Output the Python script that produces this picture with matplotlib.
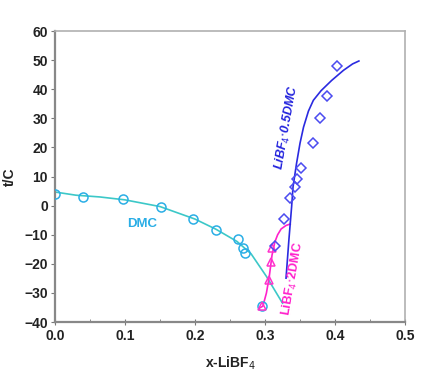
import matplotlib
matplotlib.use('Agg')
import matplotlib.pyplot as plt
from matplotlib.ticker import MultipleLocator

# Datos: DMC (puntos y curva)
dmc_x = [0.0, 0.040, 0.097, 0.152, 0.197, 0.230, 0.261, 0.269, 0.271, 0.296]
dmc_t = [4.0, 3.1, 2.2, -0.6, -4.7, -8.3, -11.5, -14.6, -16.3, -34.3]
dmc_fit_x = [0.0, 0.03, 0.064, 0.10, 0.15, 0.20, 0.23, 0.26, 0.28, 0.302, 0.315, 0.325]
dmc_fit_t = [4.7, 3.6, 3.0, 2.0, -0.3, -4.6, -8.1, -12.3, -16.5, -24.3, -29.5, -33.5]

# LiBF4·2DMC
dmc2_x = [0.296, 0.306, 0.309, 0.310]
dmc2_t = [-34.3, -25.5, -19.2, -14.6]
dmc2_fit_x = [0.292, 0.297, 0.302, 0.306, 0.310, 0.314, 0.318, 0.323, 0.330, 0.336]
dmc2_fit_t = [-35.2, -34.5, -30.0, -24.5, -17.0, -12.5, -10.0, -8.0, -6.8, -6.3]

# LiBF4·0.5DMC
dmc05_x = [0.314, 0.327, 0.335, 0.343, 0.345, 0.351, 0.368, 0.378, 0.388, 0.403]
dmc05_t = [-13.8, -4.6, 2.7, 6.3, 9.0, 12.8, 21.4, 30.2, 37.6, 47.9]
dmc05_fit_x = [0.330, 0.334, 0.338, 0.340, 0.345, 0.350, 0.355, 0.362, 0.369, 0.380, 0.395, 0.412, 0.425, 0.434]
dmc05_fit_t = [-24.9, -12.0, -0.3, 6.5, 14.5, 21.5, 27.0, 32.5, 36.2, 39.5, 43.0, 46.5, 48.7, 49.7]

plt.rcParams['font.family'] = ['Liberation Sans', 'DejaVu Sans']

fig = plt.figure(figsize=(4.22, 3.83), dpi=100)
ax = fig.add_axes([0.130, 0.159, 0.830, 0.760])

ax.plot(dmc_fit_x, dmc_fit_t, color='#3cc8c8', linewidth=1.2, zorder=2)
ax.plot(dmc_x, dmc_t, linestyle='none', marker='o', markersize=6.5,
        markerfacecolor='none', markeredgecolor='#2aaee6', markeredgewidth=1.1, zorder=3)

ax.plot(dmc2_fit_x, dmc2_fit_t, color='#ff22cc', linewidth=1.2, zorder=2)
ax.plot(dmc2_x, dmc2_t, linestyle='none', marker='^', markersize=6,
        markerfacecolor='none', markeredgecolor='#ff33cc', markeredgewidth=1.1, zorder=3)

ax.plot(dmc05_fit_x, dmc05_fit_t, color='#2a2ae0', linewidth=1.2, zorder=2)
ax.plot(dmc05_x, dmc05_t, linestyle='none', marker='D', markersize=5,
        markerfacecolor='none', markeredgecolor='#4b4bf0', markeredgewidth=1.1, zorder=3)

# Etiquetas de las curvas
ax.text(0.124, -6.3, 'DMC', color='#2aaee6', fontsize=9.5, fontweight='bold',
        ha='center', va='center')
ax.text(0.331, 27, r'LiBF$_4$$\cdot$0.5DMC', color='#2222dd', fontsize=9,
        fontweight='bold', fontstyle='italic', rotation=80, ha='center', va='center')
ax.text(0.340, -25, r'LiBF$_4$$\cdot$2DMC', color='#ff22cc', fontsize=9,
        fontweight='bold', rotation=80, ha='center', va='center')

ax.set_xlim(0, 0.5)
ax.set_ylim(-40, 60)
ax.xaxis.set_major_locator(MultipleLocator(0.1))
ax.xaxis.set_minor_locator(MultipleLocator(0.05))
ax.yaxis.set_major_locator(MultipleLocator(10))
ax.set_xticklabels([f'{v:.1f}' for v in ax.get_xticks()])

ax.tick_params(axis='x', which='major', direction='inout', length=4, color='#777777',
               labelsize=10, pad=3)
ax.tick_params(axis='x', which='minor', direction='in', length=2, color='#777777')
ax.tick_params(axis='y', which='major', direction='out', length=3, color='#777777',
               labelsize=10, pad=2)
for lbl in ax.get_xticklabels() + ax.get_yticklabels():
    lbl.set_fontweight('bold')
    lbl.set_color('#222222')

for side in ['left', 'bottom']:
    ax.spines[side].set_color('#888888')
    ax.spines[side].set_linewidth(1.6)
for side in ['top', 'right']:
    ax.spines[side].set_color('#b0b0b0')
    ax.spines[side].set_linewidth(1.2)

ax.set_xlabel(r'x-LiBF$_4$', fontsize=10, fontweight='bold', color='#222222', labelpad=8)
ax.set_ylabel('t/C', fontsize=10, fontweight='bold', color='#222222', labelpad=5)

fig.savefig('out.png', dpi=100, facecolor='white')
